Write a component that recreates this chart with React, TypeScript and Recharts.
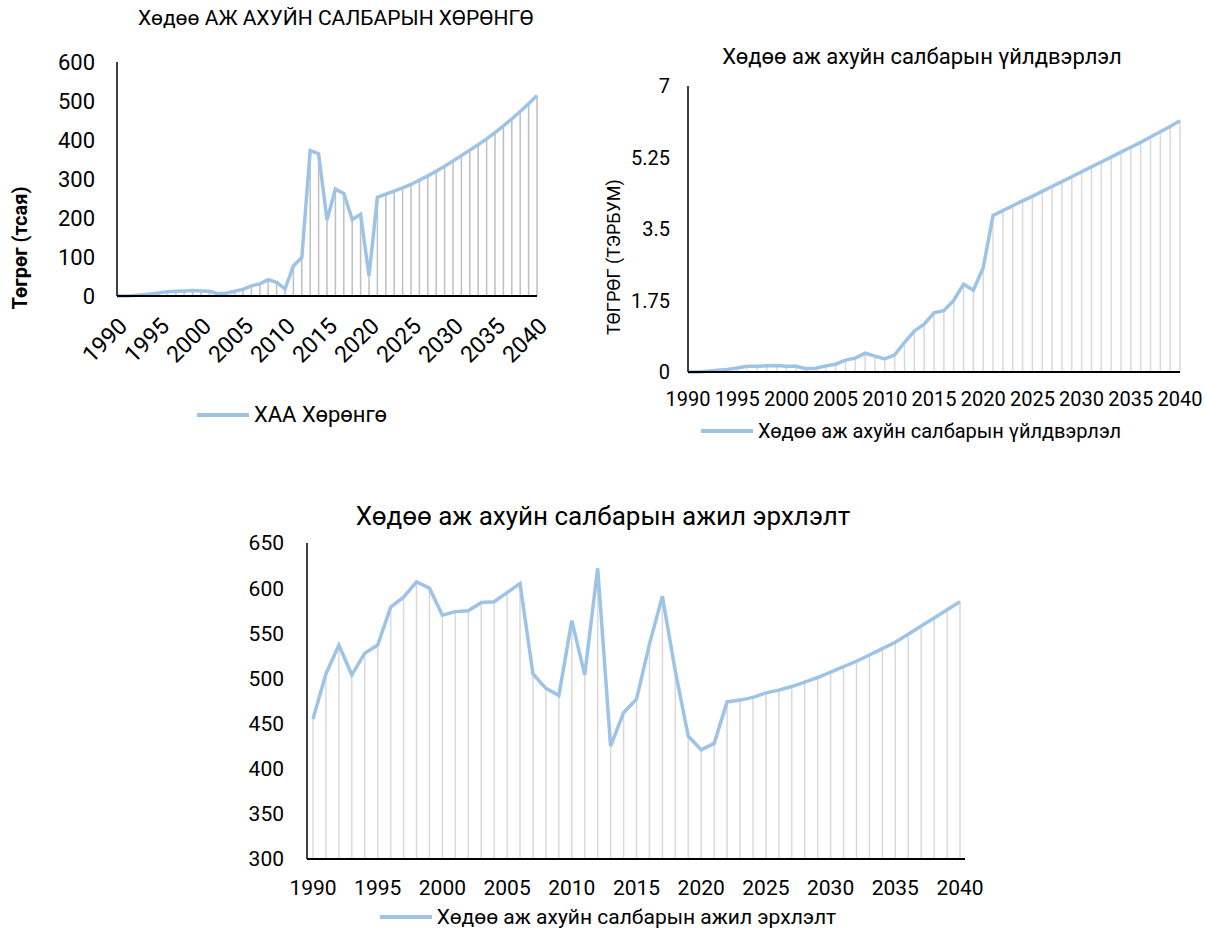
import React from 'react';
import { LineChart, Line, XAxis, YAxis, ReferenceLine, Legend } from 'recharts';

const years = [
  1990, 1991, 1992, 1993, 1994, 1995, 1996, 1997, 1998, 1999,
  2000, 2001, 2002, 2003, 2004, 2005, 2006, 2007, 2008, 2009,
  2010, 2011, 2012, 2013, 2014, 2015, 2016, 2017, 2018, 2019,
  2020, 2021, 2022, 2023, 2024, 2025, 2026, 2027, 2028, 2029,
  2030, 2031, 2032, 2033, 2034, 2035, 2036, 2037, 2038, 2039, 2040,
];

// ХАА Хөрөнгө
const assets = [
  0, 0, 1, 3, 5, 8, 11, 12, 13, 14,
  13, 12, 6, 7, 12, 17, 26, 31, 42, 35,
  18, 77, 99, 373, 365, 195, 274, 263, 196, 209,
  52, 253, 261, 269, 277, 286, 297, 308, 320, 333,
  346, 360, 374, 388, 403, 419, 436, 454, 473, 493, 514,
];

// Үйлдвэрлэл
const production = [
  0, 0, 0.02, 0.04, 0.06, 0.1, 0.14, 0.14, 0.15, 0.16,
  0.14, 0.14, 0.08, 0.09, 0.15, 0.19, 0.29, 0.34, 0.46, 0.39,
  0.32, 0.42, 0.72, 1.0, 1.17, 1.45, 1.5, 1.75, 2.15, 2.0,
  2.55, 3.83, 3.95, 4.07, 4.19, 4.3, 4.42, 4.54, 4.66, 4.78,
  4.9, 5.02, 5.14, 5.26, 5.38, 5.5, 5.62, 5.75, 5.88, 6.01, 6.15,
];

// Ажил эрхлэлт
const employment = [
  455, 505, 537, 504, 528, 537, 579, 590, 607, 600,
  570, 574, 575, 584, 585, 595, 605, 505, 489, 481,
  564, 504, 622, 425, 462, 477, 538, 591, 508, 436,
  421, 428, 474, 476, 479, 484, 487, 491, 496, 501,
  507, 513, 519, 526, 533, 540, 549, 558, 567, 576, 585,
];

const yearTicks = [1990, 1995, 2000, 2005, 2010, 2015, 2020, 2025, 2030, 2035, 2040];
const assetTicks = [0, 100, 200, 300, 400, 500, 600];
const productionTicks = [0, 1.75, 3.5, 5.25, 7];
const employmentTicks = [300, 350, 400, 450, 500, 550, 600, 650];

const FONT = "Roboto, 'Noto Sans', 'Liberation Sans', sans-serif";
const LINE = '#9dc3e6';

const toRows = (values: number[]) => years.map((year, i) => ({ year, value: values[i] }));

const dropLines = (rows: { year: number; value: number }[], base: number, color: string) =>
  rows.map((r) => (
    <ReferenceLine
      key={r.year}
      segment={[{ x: r.year, y: base }, { x: r.year, y: r.value }]}
      stroke={color}
      strokeWidth={1.5}
    />
  ));

const legendContent = (fontSize: number) => (props: any) => (
  <div style={{ display: 'flex', alignItems: 'center', justifyContent: 'center' }}>
    {(props.payload || []).map((p: any) => (
      <div key={p.value} style={{ display: 'flex', alignItems: 'center' }}>
        <svg width={52} height={8}>
          <line x1={0} y1={4} x2={52} y2={4} stroke={LINE} strokeWidth={4} />
        </svg>
        <span style={{ marginLeft: 5, fontSize, color: '#000', fontFamily: FONT }}>{p.value}</span>
      </div>
    ))}
  </div>
);

const Title = ({ text, cx, top, size }: { text: string; cx: number; top: number; size: number }) => (
  <div
    style={{
      position: 'absolute', left: cx - 300, width: 600, top, textAlign: 'center',
      fontSize: size, fontFamily: FONT, color: '#000', whiteSpace: 'nowrap',
    }}
  >
    {text}
  </div>
);

const VLabel = ({ text, cx, cy, size, bold }: { text: string; cx: number; cy: number; size: number; bold?: boolean }) => (
  <div
    style={{
      position: 'absolute', left: cx - 150, top: cy - 12, width: 300, height: 24, lineHeight: '24px',
      textAlign: 'center', fontSize: size, fontWeight: bold ? 700 : 400, fontFamily: FONT,
      color: '#000', transform: 'rotate(-90deg)', whiteSpace: 'nowrap',
    }}
  >
    {text}
  </div>
);

export default function App() {
  const assetRows = toRows(assets);
  const productionRows = toRows(production);
  const employmentRows = toRows(employment);

  return (
    <div style={{ position: 'absolute', left: 0, top: 0, width: 1207, height: 932, background: '#fff', fontFamily: FONT }}>
      {/* Хөрөнгө */}
      <Title text="Хөдөө АЖ АХУЙН САЛБАРЫН ХӨРӨНГӨ" cx={336} top={6} size={21} />
      <VLabel text="Төгрөг (тсая)" cx={20} cy={248} size={20} bold />
      <div style={{ position: 'absolute', left: 0, top: 0 }}>
        <LineChart width={560} height={440} data={assetRows} margin={{ top: 62, right: 23, left: 57, bottom: 64 }}>
          <XAxis
            dataKey="year" type="number" domain={[1990, 2040]} ticks={yearTicks}
            axisLine={{ stroke: '#000', strokeWidth: 2 }} tickLine={false} height={80} tickMargin={14}
            tick={{ fontSize: 23, fill: '#000', angle: -45, textAnchor: 'end', fontFamily: FONT }} interval={0}
          />
          <YAxis
            type="number" domain={[0, 600]} ticks={assetTicks} width={60}
            axisLine={{ stroke: '#000', strokeWidth: 1.5 }} tickLine={false} tickMargin={16}
            tick={{ fontSize: 22, fill: '#000', fontFamily: FONT }}
          />
          {dropLines(assetRows, 0, '#bfbfbf')}
          <Line dataKey="value" name="ХАА Хөрөнгө" stroke={LINE} strokeWidth={3.5} dot={false} isAnimationActive={false} />
          <Legend layout="horizontal" verticalAlign="middle" align="center" wrapperStyle={{ top: 402, left: 142, width: 300 }} content={legendContent(22)} />
        </LineChart>
      </div>

      {/* Үйлдвэрлэл */}
      <Title text="Хөдөө аж ахуйн салбарын үйлдвэрлэл" cx={922} top={44} size={22} />
      <VLabel text="ТӨГРӨГ (ТЭРБУМ)" cx={614} cy={257} size={18} />
      <div style={{ position: 'absolute', left: 590, top: 30 }}>
        <LineChart width={617} height={420} data={productionRows} margin={{ top: 56, right: 27, left: 38, bottom: 38 }}>
          <XAxis
            dataKey="year" type="number" domain={[1990, 2040]} ticks={yearTicks}
            axisLine={{ stroke: '#000', strokeWidth: 2 }} tickLine={false} height={40} tickMargin={14}
            tick={{ fontSize: 20, fill: '#000', fontFamily: FONT }} interval={0}
          />
          <YAxis
            type="number" domain={[0, 7]} ticks={productionTicks} width={60}
            axisLine={{ stroke: '#000', strokeWidth: 1.5 }} tickLine={false} tickMargin={12}
            tick={{ fontSize: 20, fill: '#000', fontFamily: FONT }}
          />
          {dropLines(productionRows, 0, '#d9d9d9')}
          <Line dataKey="value" name="Хөдөө аж ахуйн салбарын үйлдвэрлэл" stroke={LINE} strokeWidth={3.5} dot={false} isAnimationActive={false} />
          <Legend layout="horizontal" verticalAlign="middle" align="center" wrapperStyle={{ top: 389, left: 21, width: 600 }} content={legendContent(20)} />
        </LineChart>
      </div>

      {/* Ажил эрхлэлт */}
      <Title text="Хөдөө аж ахуйн салбарын ажил эрхлэлт" cx={603} top={501} size={26} />
      <div style={{ position: 'absolute', left: 240, top: 490 }}>
        <LineChart width={770} height={442} data={employmentRows} margin={{ top: 53, right: 45, left: 7, bottom: 33 }}>
          <XAxis
            dataKey="year" type="number" domain={[1990, 2040]} ticks={yearTicks} padding={{ left: 6, right: 5 }}
            axisLine={{ stroke: '#000', strokeWidth: 2 }} tickLine={false} height={40} tickMargin={15}
            tick={{ fontSize: 21, fill: '#000', fontFamily: FONT }} interval={0}
          />
          <YAxis
            type="number" domain={[300, 650]} ticks={employmentTicks} width={60}
            axisLine={{ stroke: '#000', strokeWidth: 1.5 }} tickLine={false} tickMargin={17}
            tick={{ fontSize: 21, fill: '#000', fontFamily: FONT }}
          />
          {dropLines(employmentRows, 300, '#d9d9d9')}
          <Line dataKey="value" name="Хөдөө аж ахуйн салбарын ажил эрхлэлт" stroke={LINE} strokeWidth={3.5} dot={false} isAnimationActive={false} />
          <Legend layout="horizontal" verticalAlign="middle" align="center" wrapperStyle={{ top: 415, left: 68, width: 600 }} content={legendContent(21)} />
        </LineChart>
      </div>
    </div>
  );
}
